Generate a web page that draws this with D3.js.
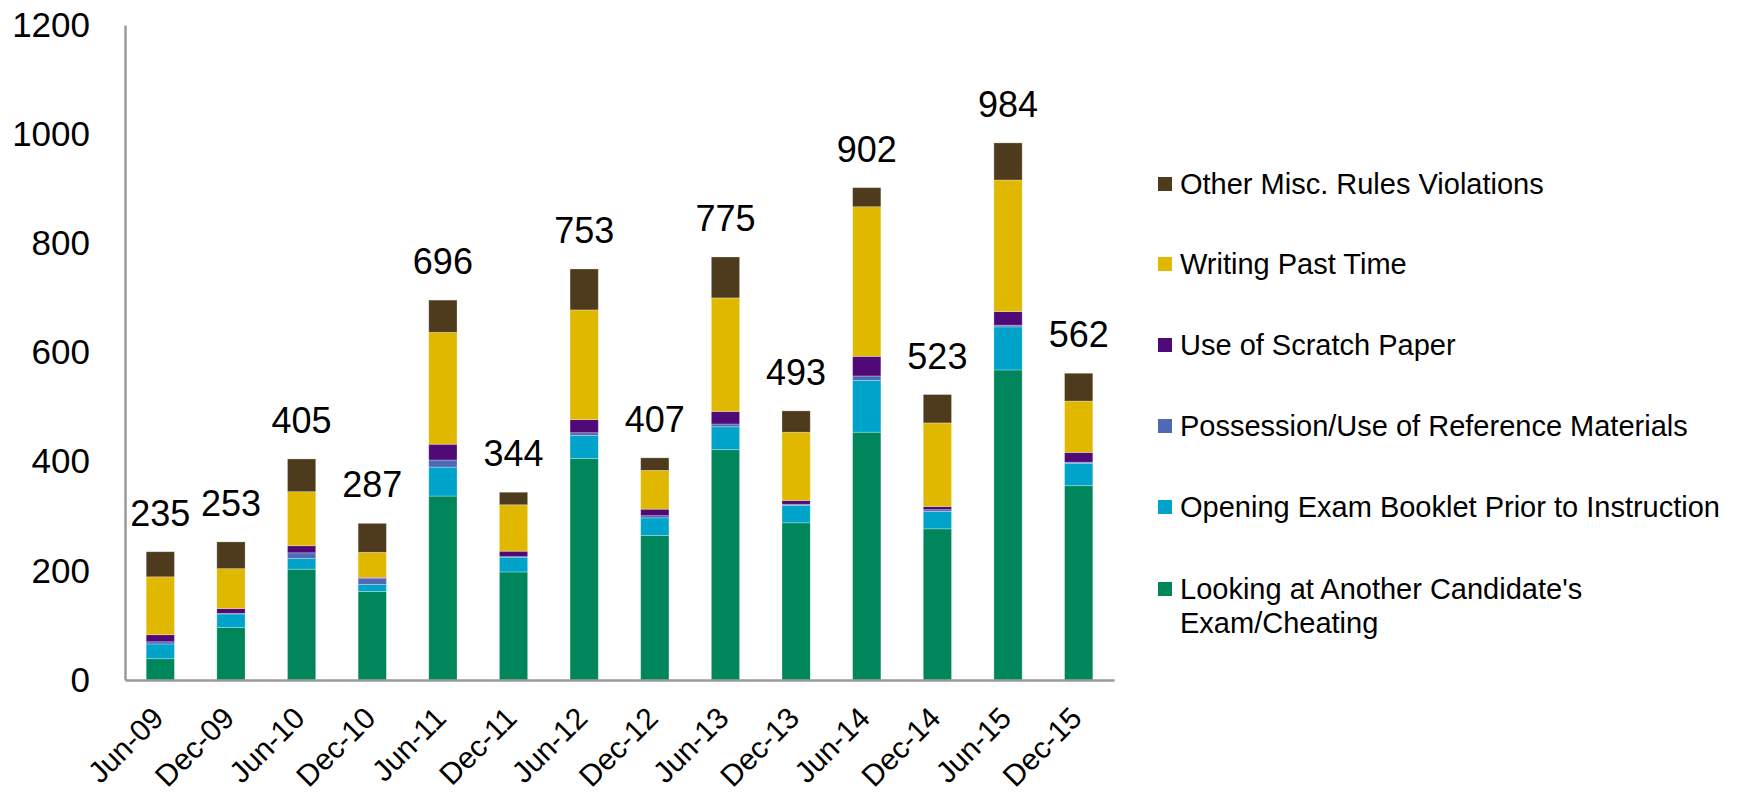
<!DOCTYPE html>
<html>
<head>
<meta charset="utf-8">
<script src="https://cdn.jsdelivr.net/npm/d3@7"></script>
<style>
  body { margin: 0; background: #fff; }
  svg { font-family: "Liberation Sans", Arial, sans-serif; }
</style>
</head>
<body>
<svg width="1743" height="793"></svg>
<script>
// Categories (exam sessions)
const sessions = ["Jun-09", "Dec-09", "Jun-10", "Dec-10", "Jun-11", "Dec-11", "Jun-12",
	"Dec-12", "Jun-13", "Dec-13", "Jun-14", "Dec-14", "Jun-15", "Dec-15"];

// Series values, bottom to top
const looking   = [39, 96, 203, 162, 337, 198, 406, 265, 422, 288, 454, 277, 568, 356];
const opening   = [27, 25, 20, 13, 53, 27, 42, 32, 42, 32, 95, 32, 79, 41];
const reference = [4, 1, 10, 11, 13, 1, 5, 4, 5, 2, 8, 3, 3, 2];
const scratch   = [13, 9, 13, 2, 29, 10, 24, 12, 23, 7, 36, 6, 25, 18];
const writing   = [106, 73, 99, 46, 205, 85, 201, 71, 208, 125, 274, 153, 241, 94];
const other     = [46, 49, 60, 53, 59, 23, 75, 23, 75, 39, 35, 52, 68, 51];

const seriesNames = ["Looking at Another Candidate's Exam/Cheating",
	"Opening Exam Booklet Prior to Instruction",
	"Possession/Use of Reference Materials",
	"Use of Scratch Paper",
	"Writing Past Time",
	"Other Misc. Rules Violations"];
const seriesColors = ["#00865a", "#00a3c9", "#4f69b5", "#4f0a78", "#e1b800", "#4e3b1d"];

const yTicks = [0, 200, 400, 600, 800, 1000, 1200];

// table for d3.stack
const keys = ["looking", "opening", "reference", "scratch", "writing", "other"];
const rows = sessions.map(function(s, i) {
	return { session: s, looking: looking[i], opening: opening[i], reference: reference[i],
		scratch: scratch[i], writing: writing[i], other: other[i] };
});

function total(d) {
	return keys.reduce(function(a, k) { return a + d[k]; }, 0);
}

const svg = d3.select("svg");

const x = d3.scaleBand()
	.domain(sessions)
	.range([125, 1114])
	.paddingInner(0.6)
	.paddingOuter(0.3);

const y = d3.scaleLinear()
	.domain([0, 1200])
	.range([680, 25]);

const color = d3.scaleOrdinal().domain(keys).range(seriesColors);

const stacked = d3.stack().keys(keys)(rows);

// barras apiladas
svg.append("g")
	.selectAll("g")
	.data(stacked)
	.enter().append("g")
	.attr("fill", function(d) { return color(d.key); })
	.selectAll("rect")
	.data(function(d) { return d; })
	.enter().append("rect")
	.attr("x", function(d) { return x(d.data.session); })
	.attr("y", function(d) { return y(d[1]); })
	.attr("width", x.bandwidth())
	.attr("height", function(d) { return y(d[0]) - y(d[1]); })
	.attr("stroke", "#ffffff")
	.attr("stroke-opacity", 0.35)
	.attr("stroke-width", 0.8);

// totals above each bar
svg.append("g")
	.selectAll("text")
	.data(rows)
	.enter().append("text")
	.attr("x", function(d) { return x(d.session) + x.bandwidth() / 2; })
	.attr("y", function(d) { return y(total(d)) - 26; })
	.attr("text-anchor", "middle")
	.style("font-size", "36px")
	.attr("fill", "#000")
	.text(total);

// eje Y
const yAxis = svg.append("g")
	.attr("transform", "translate(125,0)")
	.call(d3.axisLeft(y).tickValues(yTicks).tickFormat(d3.format("d")).tickSize(0).tickPadding(35));
yAxis.select(".domain").attr("stroke", "#9a9a9a").attr("stroke-width", 2.5);
yAxis.selectAll("text")
	.style("font-size", "35px")
	.attr("font-family", "Liberation Sans, Arial, sans-serif")
	.attr("fill", "#000");

// eje X
const xAxis = svg.append("g")
	.attr("transform", "translate(0,680)")
	.call(d3.axisBottom(x).tickSize(0).tickSizeOuter(0));
xAxis.select(".domain").attr("stroke", "#9a9a9a").attr("stroke-width", 2.5);
xAxis.selectAll("text")
	.style("font-size", "30px")
	.attr("font-family", "Liberation Sans, Arial, sans-serif")
	.attr("fill", "#000")
	.attr("text-anchor", "end")
	.attr("x", 0)
	.attr("y", 0)
	.attr("dy", 0)
	.attr("transform", "translate(5,40) rotate(-45)");

// leyenda (top to bottom is the reverse of the stack)
const legendY = [184, 264, 345, 426, 507, 589];
const legend = svg.append("g");
const entries = legend.selectAll("g")
	.data(keys.slice().reverse())
	.enter().append("g")
	.attr("transform", function(d, i) { return "translate(1158," + legendY[i] + ")"; });

entries.append("rect")
	.attr("x", 0)
	.attr("y", -7)
	.attr("width", 14)
	.attr("height", 14)
	.attr("fill", function(d) { return color(d); });

entries.append("text")
	.attr("x", 22)
	.attr("y", 0)
	.attr("dy", "0.36em")
	.style("font-size", "29px")
	.attr("fill", "#000")
	.each(function(d) {
		const name = seriesNames[keys.indexOf(d)];
		const t = d3.select(this);
		if (d === "looking") {
			t.append("tspan").attr("x", 22).text("Looking at Another Candidate's");
			t.append("tspan").attr("x", 22).attr("dy", "1.15em").text("Exam/Cheating");
		} else {
			t.text(name);
		}
	});
</script>
</body>
</html>
